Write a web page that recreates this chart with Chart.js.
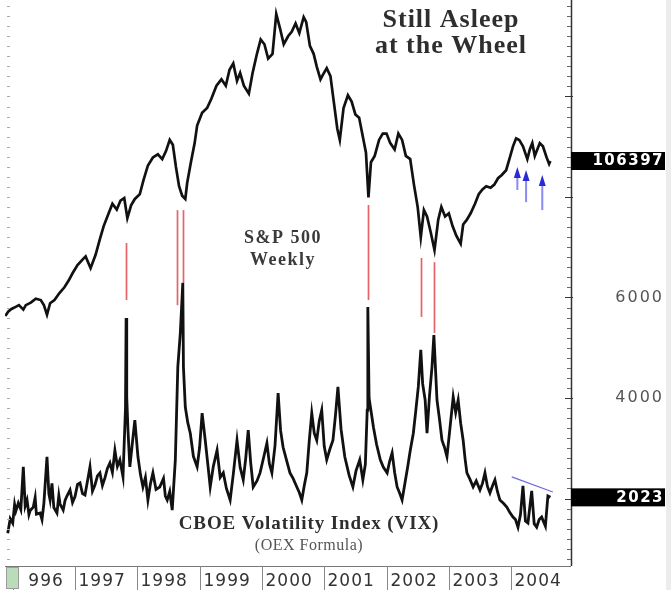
<!DOCTYPE html>
<html><head><meta charset="utf-8">
<script src="https://cdn.jsdelivr.net/npm/chart.js@4.4.1/dist/chart.umd.min.js"></script>
<style>html,body{margin:0;padding:0;background:#fff;}canvas{display:block;}</style>
</head><body>
<canvas id="c" width="671" height="590"></canvas>
<script>
// ---- data ----
const spDates = [1995.88,1995.93,1995.98,1996.04,1996.10,1996.17,1996.21,1996.29,1996.37,1996.45,1996.50,1996.55,1996.60,1996.67,1996.75,1996.83,1996.90,1996.96,
1997.04,1997.12,1997.17,1997.25,1997.33,1997.40,1997.46,1997.54,1997.60,1997.67,1997.73,1997.79,1997.84,1997.90,1997.96,
1998.04,1998.10,1998.17,1998.25,1998.33,1998.40,1998.46,1998.52,1998.57,1998.62,1998.67,1998.72,1998.77,1998.80,1998.86,1998.92,1998.96,
1999.04,1999.12,1999.19,1999.27,1999.35,1999.42,1999.48,1999.54,1999.60,1999.65,1999.71,1999.79,1999.85,1999.92,1999.98,
2000.04,2000.10,2000.17,2000.23,2000.29,2000.35,2000.42,2000.48,2000.54,2000.60,2000.67,2000.71,2000.77,2000.83,2000.88,2000.94,2000.98,
2001.04,2001.10,2001.15,2001.21,2001.25,2001.31,2001.38,2001.44,2001.50,2001.56,2001.62,2001.67,2001.71,2001.75,2001.81,2001.88,2001.94,
2002.00,2002.06,2002.13,2002.19,2002.25,2002.31,2002.38,2002.44,2002.50,2002.55,2002.60,2002.65,2002.71,2002.77,2002.83,2002.88,2002.94,
2003.00,2003.06,2003.12,2003.19,2003.23,2003.29,2003.35,2003.42,2003.48,2003.54,2003.60,2003.67,2003.73,2003.79,2003.85,2003.92,2003.98,
2004.03,2004.08,2004.13,2004.19,2004.26,2004.30,2004.34,2004.38,2004.42,2004.46,2004.51,2004.57,2004.61,2004.63];
const spValues = [578,592,600,606,612,598,612,620,632,628,612,582,618,628,650,668,690,712,
738,755,765,728,770,820,860,900,930,912,940,948,885,925,945,
960,1005,1050,1075,1085,1070,1095,1130,1115,1045,985,955,945,995,1060,1120,1175,
1215,1230,1260,1300,1320,1300,1350,1370,1315,1340,1300,1275,1340,1400,1445,
1430,1385,1400,1525,1480,1430,1455,1470,1495,1465,1515,1500,1425,1400,1360,1320,1335,
1355,1330,1255,1165,1130,1230,1270,1250,1210,1200,1140,1090,950,1060,1080,1130,1150,
1150,1120,1100,1150,1130,1080,1070,990,920,825,910,890,840,785,880,920,890,
900,860,830,805,865,880,900,930,960,975,985,980,990,1010,1020,1035,1075,
1110,1135,1130,1110,1070,1100,1120,1080,1100,1120,1110,1075,1055,1063.97];

const vixDates = [1995.92,1995.96,1996.00,1996.03,1996.05,1996.09,1996.13,1996.17,1996.20,1996.23,1996.26,1996.28,1996.33,1996.36,1996.38,1996.44,1996.47,1996.50,1996.55,1996.58,1996.60,1996.63,1996.66,1996.71,1996.74,1996.76,1996.81,1996.84,1996.87,1996.92,1996.96,
1997.00,1997.04,1997.08,1997.12,1997.16,1997.20,1997.24,1997.28,1997.32,1997.36,1997.40,1997.44,1997.48,1997.52,1997.56,1997.60,1997.64,1997.68,1997.72,1997.77,1997.81,1997.82,1997.83,1997.85,1997.88,1997.92,1997.96,
1998.01,1998.05,1998.09,1998.13,1998.17,1998.21,1998.25,1998.30,1998.36,1998.42,1998.45,1998.48,1998.52,1998.56,1998.61,1998.65,1998.69,1998.73,1998.74,1998.77,1998.81,1998.85,1998.90,1998.96,
1999.00,1999.04,1999.09,1999.13,1999.17,1999.22,1999.28,1999.33,1999.38,1999.43,1999.49,1999.54,1999.60,1999.65,1999.70,1999.74,1999.78,1999.82,1999.86,1999.92,1999.97,
2000.03,2000.08,2000.12,2000.16,2000.21,2000.26,2000.30,2000.34,2000.40,2000.45,2000.50,2000.56,2000.60,2000.64,2000.68,2000.72,2000.76,2000.80,2000.84,2000.88,2000.92,2000.96,
2001.00,2001.04,2001.09,2001.14,2001.18,2001.22,2001.27,2001.33,2001.40,2001.46,2001.51,2001.57,2001.62,2001.66,2001.69,2001.70,2001.72,2001.79,2001.84,2001.90,2001.95,
2002.01,2002.05,2002.09,2002.13,2002.17,2002.21,2002.25,2002.30,2002.34,2002.38,2002.43,2002.47,2002.51,2002.55,2002.58,2002.62,2002.65,2002.69,2002.73,2002.76,2002.81,2002.85,2002.89,2002.93,2002.97,
2003.02,2003.07,2003.11,2003.15,2003.19,2003.23,2003.26,2003.29,2003.34,2003.39,2003.44,2003.50,2003.54,2003.58,2003.62,2003.66,2003.70,2003.74,2003.78,2003.82,2003.88,2003.93,2003.98,
2004.03,2004.07,2004.11,2004.15,2004.19,2004.23,2004.27,2004.33,2004.37,2004.41,2004.45,2004.49,2004.55,2004.59,2004.63];
const vixValues = [13.1,16.0,15.1,18.8,17.5,19.1,17.8,26.3,18.5,19.7,16.8,17.6,18.3,20.2,16.9,17.1,15.8,19.0,28.3,21.0,19.7,23.0,18.2,17.1,20.6,18.9,17.7,19.6,20.5,21.7,19.2,
20.4,22.8,23.1,21.0,20.7,23.5,26.3,21.5,22.7,24.5,25.1,22.6,24.1,26.0,27.1,25.2,29.6,26.4,27.7,24.3,38.0,55.9,40.2,33.6,26.3,31.0,35.6,
28.3,24.8,22.3,24.2,19.7,22.9,25.1,21.8,22.3,24.0,20.5,19.7,21.4,17.7,27.7,46.2,52.9,62.9,46.2,38.2,35.1,33.0,28.4,26.3,
30.2,37.0,31.6,27.0,22.3,26.4,29.6,24.2,25.1,22.0,19.7,24.8,31.6,26.2,23.7,28.0,33.6,27.1,22.3,23.5,25.1,
28.3,31.0,26.9,25.1,30.5,41.0,33.5,30.2,27.4,25.1,24.0,22.3,21.2,19.7,22.6,25.1,31.5,37.0,33.0,31.6,35.4,37.6,
30.4,27.7,29.8,31.6,36.5,42.2,33.8,28.3,24.6,22.3,25.5,27.7,23.7,26.8,37.6,58.1,40.0,34.2,30.8,27.7,26.2,
25.1,27.4,29.1,25.2,22.3,21.1,19.7,23.4,26.3,29.5,33.0,37.5,42.2,49.6,42.8,39.6,33.0,40.5,46.2,52.5,39.6,35.8,31.6,30.2,28.3,
34.2,40.2,37.1,39.6,35.0,31.6,28.0,25.1,23.8,22.3,23.5,21.7,23.0,25.1,22.4,21.1,22.5,23.7,21.4,19.7,19.0,18.3,17.2,
16.3,15.8,14.3,16.8,22.5,15.5,15.1,21.5,15.0,14.3,15.8,16.3,14.5,20.5,20.23];

const yearStarts = [1996,1997,1998,1999,2000,2001,2002,2003,2004];
const yearLabels = ['1996','1997','1998','1999','2000','2001','2002','2003','2004'];
const vixAxisLabelValues = [60, 40];          // shown as 6000 / 4000
const turnDates  = [1997.82,1998.64,1998.73,2001.70,2002.55,2002.76];
const turnTop    = [807,910,910,926,760,747];    // S&P scale
const turnBottom = [628,612,681,628,575,525];
const arrowDates  = [2004.10,2004.24,2004.50];
const arrowTop    = [1045,1036,1020];
const arrowBottom = [973,935,910];
const trendDates  = [2004.01,2004.67];
const trendValues = [24.3,21.3];

// ---- chart ----
const pts = (d,v)=>d.map((t,i)=>({x:t,y:v[i]}));

const deco = {
  id:'deco',
  beforeDatasetsDraw(chart){
    const {ctx, scales:{x, ysp}} = chart;
    ctx.save();
    ctx.strokeStyle='rgba(226,72,78,0.85)'; ctx.lineWidth=1.7;
    turnDates.forEach((d,i)=>{
      const px=Math.round(x.getPixelForValue(d))+0.5;
      ctx.beginPath(); ctx.moveTo(px, ysp.getPixelForValue(turnTop[i])); ctx.lineTo(px, ysp.getPixelForValue(turnBottom[i])); ctx.stroke();
    });
    ctx.restore();
  },
  afterDatasetsDraw(chart){
    const {ctx, scales:{x, ysp, yvix}} = chart;
    ctx.save();
    ctx.strokeStyle='#6a6ae0'; ctx.lineWidth=1.2;
    ctx.beginPath();
    ctx.moveTo(x.getPixelForValue(trendDates[0]), yvix.getPixelForValue(trendValues[0]));
    ctx.lineTo(x.getPixelForValue(trendDates[1]), yvix.getPixelForValue(trendValues[1]));
    ctx.stroke();
    arrowDates.forEach((d,i)=>{
      const px=x.getPixelForValue(d), yt=ysp.getPixelForValue(arrowTop[i]), yb=ysp.getPixelForValue(arrowBottom[i]);
      ctx.strokeStyle='#8a8af0'; ctx.lineWidth=2;
      ctx.beginPath(); ctx.moveTo(px,yb); ctx.lineTo(px,yt+6); ctx.stroke();
      ctx.fillStyle='#2b2bd6';
      ctx.beginPath(); ctx.moveTo(px,yt); ctx.lineTo(px-3.5,yt+11); ctx.lineTo(px+3.5,yt+11); ctx.closePath(); ctx.fill();
    });
    ctx.restore();
  },
  afterDraw(chart){
    const {ctx, chartArea:ca, scales:{x, ysp, yvix}} = chart;
    const H = chart.height;
    ctx.save();
    ctx.fillStyle='#ececec'; ctx.fillRect(666,0,5,H);
    // right axis
    ctx.strokeStyle='#333'; ctx.lineWidth=1.5;
    ctx.beginPath(); ctx.moveTo(ca.right+0.5,0); ctx.lineTo(ca.right+0.5,ca.bottom); ctx.stroke();
    ctx.lineWidth=1;
    for(let v=Math.ceil(yvix.min/2)*2; v<=yvix.max; v+=2){
      const py=Math.round(yvix.getPixelForValue(v))+0.5;
      const major = v%20===0;
      ctx.strokeStyle = major ? '#333':'#666';
      ctx.beginPath(); ctx.moveTo(ca.right-(major?6:4),py); ctx.lineTo(ca.right+(major?2:0),py); ctx.stroke();
      ctx.strokeStyle='#aaa';
      ctx.beginPath(); ctx.moveTo(ca.left+2,py); ctx.lineTo(ca.left+5,py); ctx.stroke();
    }
    ctx.fillStyle='#555'; ctx.font='16px "DejaVu Sans"'; ctx.textAlign='right'; ctx.textBaseline='middle';
    ctx.letterSpacing='2px';
    vixAxisLabelValues.forEach(v=>{ ctx.fillText(String(v*100), 664, yvix.getPixelForValue(v)); });
    const badge=(txt,py)=>{
      ctx.fillStyle='#000'; ctx.fillRect(ca.right,py-9,94,18);
      ctx.fillStyle='#fff'; ctx.font='bold 15px "DejaVu Sans"'; ctx.letterSpacing='1.5px';
      ctx.textAlign='right'; ctx.textBaseline='middle';
      ctx.fillText(txt,664,py+0.5);
    };
    const lastSp=spValues[spValues.length-1], lastVix=vixValues[vixValues.length-1];
    badge(lastSp.toFixed(2).replace('.',''), ysp.getPixelForValue(lastSp));
    badge(lastVix.toFixed(2).replace('.',''), yvix.getPixelForValue(lastVix));
    // bottom border
    ctx.strokeStyle='#777'; ctx.lineWidth=1;
    ctx.beginPath(); ctx.moveTo(ca.left,ca.bottom+0.5); ctx.lineTo(ca.right,ca.bottom+0.5); ctx.stroke();
    // year labels (the first one is partly hidden, as in the original)
    ctx.font='17px "DejaVu Sans"'; ctx.letterSpacing='1px'; ctx.fillStyle='#333';
    ctx.textAlign='left'; ctx.textBaseline='alphabetic';
    yearStarts.forEach((yr,i)=>{
      const px=Math.round(x.getPixelForValue(yr))+0.5;
      ctx.strokeStyle='#888';
      ctx.beginPath(); ctx.moveTo(px,ca.bottom); ctx.lineTo(px,H); ctx.stroke();
      ctx.save();
      if(i===0){ ctx.beginPath(); ctx.rect(27,ca.bottom,60,30); ctx.clip(); }
      ctx.fillText(yearLabels[i], px+3, 586);
      ctx.restore();
    });
    ctx.fillStyle='#b9dcb9'; ctx.fillRect(6,567,13,22);
    ctx.strokeStyle='#9c9c9c'; ctx.strokeRect(6.5,567.5,12,21);
    // titles
    ctx.letterSpacing='1px';
    ctx.fillStyle='#2e2e2e'; ctx.textAlign='center';
    ctx.font='bold 26px "Liberation Serif"';
    ctx.fillText('Still Asleep', 451, 27);
    ctx.fillText('at the Wheel', 451, 53);
    ctx.fillStyle='#3a3a3a'; ctx.font='bold 18px "Liberation Serif"'; ctx.letterSpacing='1.5px';
    ctx.fillText('S&P 500', 283, 243);
    ctx.fillText('Weekly', 283, 265);
    ctx.fillStyle='#2e2e2e'; ctx.font='bold 19px "Liberation Serif"'; ctx.letterSpacing='0.9px';
    ctx.fillText('CBOE Volatility Index (VIX)', 309, 529);
    ctx.fillStyle='#555'; ctx.font='16px "Liberation Serif"'; ctx.letterSpacing='0.5px';
    ctx.fillText('(OEX Formula)', 309, 550);
    ctx.restore();
  }
};

new Chart(document.getElementById('c'), {
  type:'line',
  data:{datasets:[
    {label:'S&P 500 Weekly', data:pts(spDates,spValues), yAxisID:'ysp', borderColor:'#111', borderWidth:2.7, pointRadius:0, tension:0},
    {label:'CBOE Volatility Index (VIX)', data:pts(vixDates,vixValues), yAxisID:'yvix', borderColor:'#111', borderWidth:2.8, pointRadius:0, tension:0}
  ]},
  options:{
    responsive:false, animation:false, devicePixelRatio:1,
    layout:{padding:{left:5,right:100,top:0,bottom:24}},
    plugins:{legend:{display:false}, tooltip:{enabled:false}},
    scales:{
      x:{type:'linear', min:1995.876, max:2004.961, display:false},
      ysp:{type:'linear', min:-205.7, max:1568.7, display:false},
      yvix:{type:'linear', position:'right', min:6.57, max:119.2, display:false}
    }
  },
  plugins:[deco]
});
</script>
</body></html>
